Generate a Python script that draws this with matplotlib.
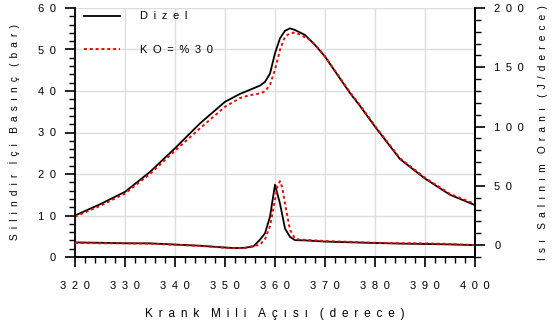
import matplotlib
matplotlib.use("Agg")
import matplotlib.pyplot as plt
from matplotlib.ticker import MultipleLocator

plt.rcParams['font.family'] = ['Liberation Sans', 'DejaVu Sans']

# Cylinder pressure (bar) vs crank angle
p_ca_dizel = [320, 325, 330, 335, 340, 345, 350, 353, 355, 357, 358, 359, 360, 361, 362, 363, 364, 366, 368, 370, 373, 375, 377, 380, 385, 390, 395, 400]
p_dizel = [10.0, 12.7, 15.7, 20.5, 26.2, 32.2, 37.4, 39.3, 40.3, 41.3, 42.2, 44.2, 49.1, 52.7, 54.5, 55.1, 54.7, 53.5, 51.1, 48.3, 43.0, 39.5, 36.4, 31.4, 23.6, 18.9, 15.0, 12.5]

p_ca_ko = [320, 325, 330, 335, 340, 345, 350, 353, 355, 357, 358, 359, 360, 361, 362, 363, 364, 365, 367, 368, 370, 373, 375, 377, 380, 385, 390, 395, 400]
p_ko = [9.7, 12.3, 15.3, 20.0, 25.6, 31.0, 36.2, 38.3, 39.0, 39.4, 39.9, 41.5, 45.1, 49.9, 53.1, 53.9, 54.1, 53.6, 52.3, 51.2, 48.3, 43.2, 39.7, 36.6, 31.6, 23.8, 19.1, 15.2, 12.8]

# Heat release rate (J/derece) vs crank angle
h_ca_dizel = [320, 325, 330, 335, 340, 345, 350, 352, 354, 355.7, 357, 358, 359, 360, 361, 362, 363, 364, 366, 368, 370, 375, 380, 385, 390, 395, 400]
h_dizel = [2.3, 2.0, 1.6, 1.5, 0.5, -0.5, -2.0, -2.5, -2.2, -1.0, 4.6, 10.0, 24.0, 51.0, 35.0, 14.0, 7.0, 4.2, 4.0, 3.5, 3.0, 2.4, 1.8, 1.3, 1.0, 0.6, 0.0]

h_ca_ko = [320, 325, 330, 335, 340, 345, 350, 352, 354, 356, 357, 358, 359, 360, 360.5, 361, 361.5, 362, 363, 364, 365, 366, 370, 375, 380, 385, 390, 395, 400]
h_ko = [1.8, 1.6, 1.5, 1.2, 0.3, -0.6, -2.2, -2.6, -2.3, -0.5, 0.5, 5.0, 16.0, 38.0, 50.0, 54.0, 48.0, 35.0, 13.0, 5.5, 4.5, 4.5, 3.5, 2.8, 2.0, 1.7, 1.5, 1.0, 0.0]

xticks = [320, 330, 340, 350, 360, 370, 380, 390, 400]
yticks_left = [0, 10, 20, 30, 40, 50, 60]
yticks_right = [0, 50, 100, 150, 200]

GAP = "\u2002"

def spaced(s):
    words = s.split(" ")
    return (GAP * 2).join(GAP.join(list(w)) for w in words)

fs = 8
fl = 8.5
fy = 7.3
fig = plt.figure(figsize=(5.54, 3.33), dpi=100)
ax = fig.add_axes([75/554, 1-257/333, 400/554, 249/333])
ax2 = ax.twinx()

l1, = ax.plot(p_ca_dizel, p_dizel, color='black', lw=1.3, label=spaced("Dizel"))
l2, = ax.plot(p_ca_ko, p_ko, color='red', lw=1.4, linestyle=(0, (1.5, 1.5)), label=spaced("KO=%30"))
ax2.plot(h_ca_dizel, h_dizel, color='black', lw=1.3)
ax2.plot(h_ca_ko, h_ko, color='red', lw=1.4, linestyle=(0, (1.5, 1.5)))

ax.set_xlim(320, 400)
ax.set_ylim(0, 60)
ax2.set_ylim(-10, 200)

ax.set_xticks(xticks)
ax.set_xticklabels([spaced(str(t)) for t in xticks], fontsize=fs)
ax.xaxis.set_minor_locator(MultipleLocator(2))
ax.set_yticks(yticks_left)
ax.set_yticklabels([spaced(str(t)) for t in yticks_left], fontsize=fs)
ax.yaxis.set_minor_locator(MultipleLocator(2))
ax2.set_yticks(yticks_right)
ax2.set_yticklabels([spaced(str(t)) for t in yticks_right], fontsize=fs)
ax2.yaxis.set_minor_locator(MultipleLocator(10))

for a in (ax, ax2):
    a.tick_params(which='major', direction='out', length=7, width=1.2, pad=7)
    a.tick_params(which='minor', direction='out', length=4, width=1.0)
    a.spines['top'].set_visible(False)
    for s in a.spines.values():
        s.set_linewidth(1.3)
ax.tick_params(axis='x', pad=10)
ax2.spines['left'].set_visible(False)

ax.grid(True, which='major', color='#dddddd', lw=1.0)
ax.set_axisbelow(True)

ax.set_xlabel(spaced("Krank Mili Açısı (derece)"), fontsize=fl, labelpad=12.5)
ax.set_ylabel(spaced("Silindir İçi Basınç (bar)"), fontsize=fy, labelpad=12.5)
ax2.set_ylabel(spaced("Isı Salınım Oranı (J/derece)"), fontsize=fy, rotation=90, labelpad=10)

leg = ax.legend(handles=[l1, l2], loc='upper left', frameon=False, fontsize=fs,
                handlelength=3.25, handletextpad=1.8, labelspacing=2.1,
                borderaxespad=0.0, bbox_to_anchor=(0.012, 1.004))

fig.savefig("out.png", dpi=100)
